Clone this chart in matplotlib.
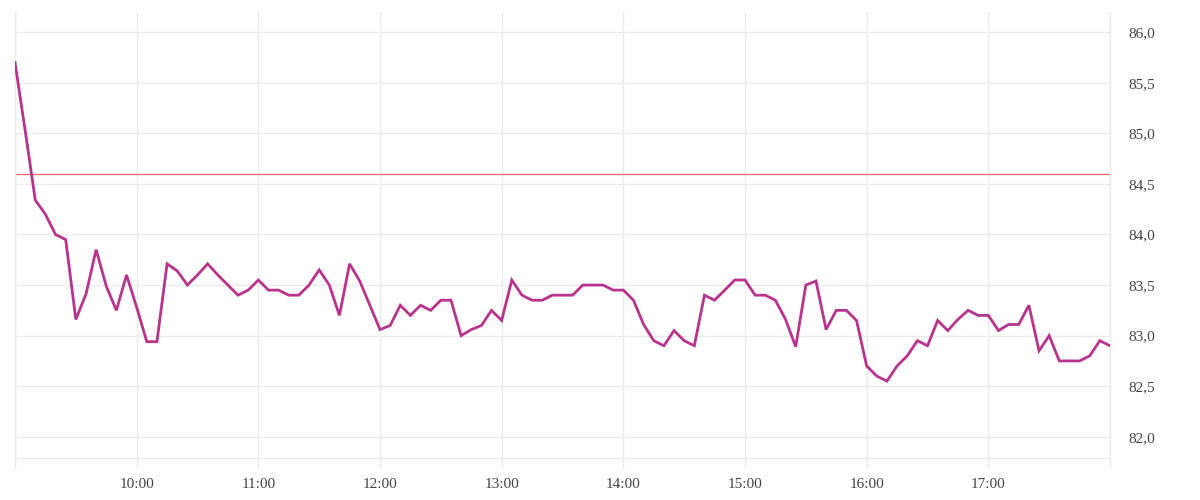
import matplotlib
matplotlib.use("Agg")
import matplotlib.pyplot as plt
from matplotlib.ticker import FuncFormatter
import pandas as pd

# --- data ---
start_time = "2024-01-02 09:00"
interval = "5min"
values = [
    85.70, 85.03, 84.34, 84.20, 84.00, 83.95, 83.16, 83.41, 83.85, 83.49,
    83.25, 83.60, 83.28, 82.94, 82.94, 83.71, 83.64, 83.50, 83.60, 83.71,
    83.60, 83.50, 83.40, 83.45, 83.55, 83.45, 83.45, 83.40, 83.40, 83.50,
    83.65, 83.50, 83.20, 83.71, 83.54, 83.30, 83.06, 83.10, 83.30, 83.20,
    83.30, 83.25, 83.35, 83.35, 83.00, 83.06, 83.10, 83.25, 83.15, 83.55,
    83.40, 83.35, 83.35, 83.40, 83.40, 83.40, 83.50, 83.50, 83.50, 83.45,
    83.45, 83.35, 83.11, 82.95, 82.90, 83.05, 82.95, 82.90, 83.40, 83.35,
    83.45, 83.55, 83.55, 83.40, 83.40, 83.35, 83.16, 82.89, 83.50, 83.54,
    83.06, 83.25, 83.25, 83.15, 82.70, 82.60, 82.55, 82.70, 82.80, 82.95,
    82.90, 83.15, 83.05, 83.16, 83.25, 83.20, 83.20, 83.05, 83.11, 83.11,
    83.30, 82.85, 83.00, 82.75, 82.75, 82.75, 82.80, 82.95, 82.90,
]
reference_level = 84.6
x_tick_hours = [9, 10, 11, 12, 13, 14, 15, 16, 17, 18]
x_tick_labels = ["", "10:00", "11:00", "12:00", "13:00", "14:00", "15:00", "16:00", "17:00", ""]
y_ticks = [82.0, 82.5, 83.0, 83.5, 84.0, 84.5, 85.0, 85.5, 86.0]

times = pd.date_range(start_time, periods=len(values), freq=interval)
day = pd.Timestamp(start_time).normalize()

plt.rcParams['font.family'] = ['Liberation Serif', 'DejaVu Serif']

fig = plt.figure(figsize=(12, 5), dpi=100)
ax = fig.add_axes([0.0125, 0.084, 0.9125, 0.892])

grid_c = "#ebebeb"
ax.plot(times, values, color="#b8348c", lw=2.0, solid_joinstyle="miter", zorder=3)
ax.axhline(reference_level, color="#f0606a", lw=0.9, zorder=2)

xt = [day + pd.Timedelta(hours=h) for h in x_tick_hours]
ax.set_xticks(xt)
ax.set_xticklabels(x_tick_labels)
ax.set_xlim(xt[0], xt[-1])

ax.set_yticks(y_ticks)
ax.yaxis.set_major_formatter(FuncFormatter(lambda v, p: f"{v:.1f}".replace(".", ",")))
ax.set_ylim(81.79, 86.2)
ax.yaxis.tick_right()

ax.grid(True, color=grid_c, lw=1)
ax.spines["top"].set_visible(False)
for s in ["left", "right", "bottom"]:
    ax.spines[s].set_color(grid_c)
    ax.spines[s].set_linewidth(1)

ax.tick_params(axis="x", length=7.5, color=grid_c, width=1, pad=7, labelsize=11, labelcolor="#444444")
ax.tick_params(axis="y", length=0, pad=13, labelsize=11, labelcolor="#444444")

fig.savefig("out.png", dpi=100, facecolor="white")
